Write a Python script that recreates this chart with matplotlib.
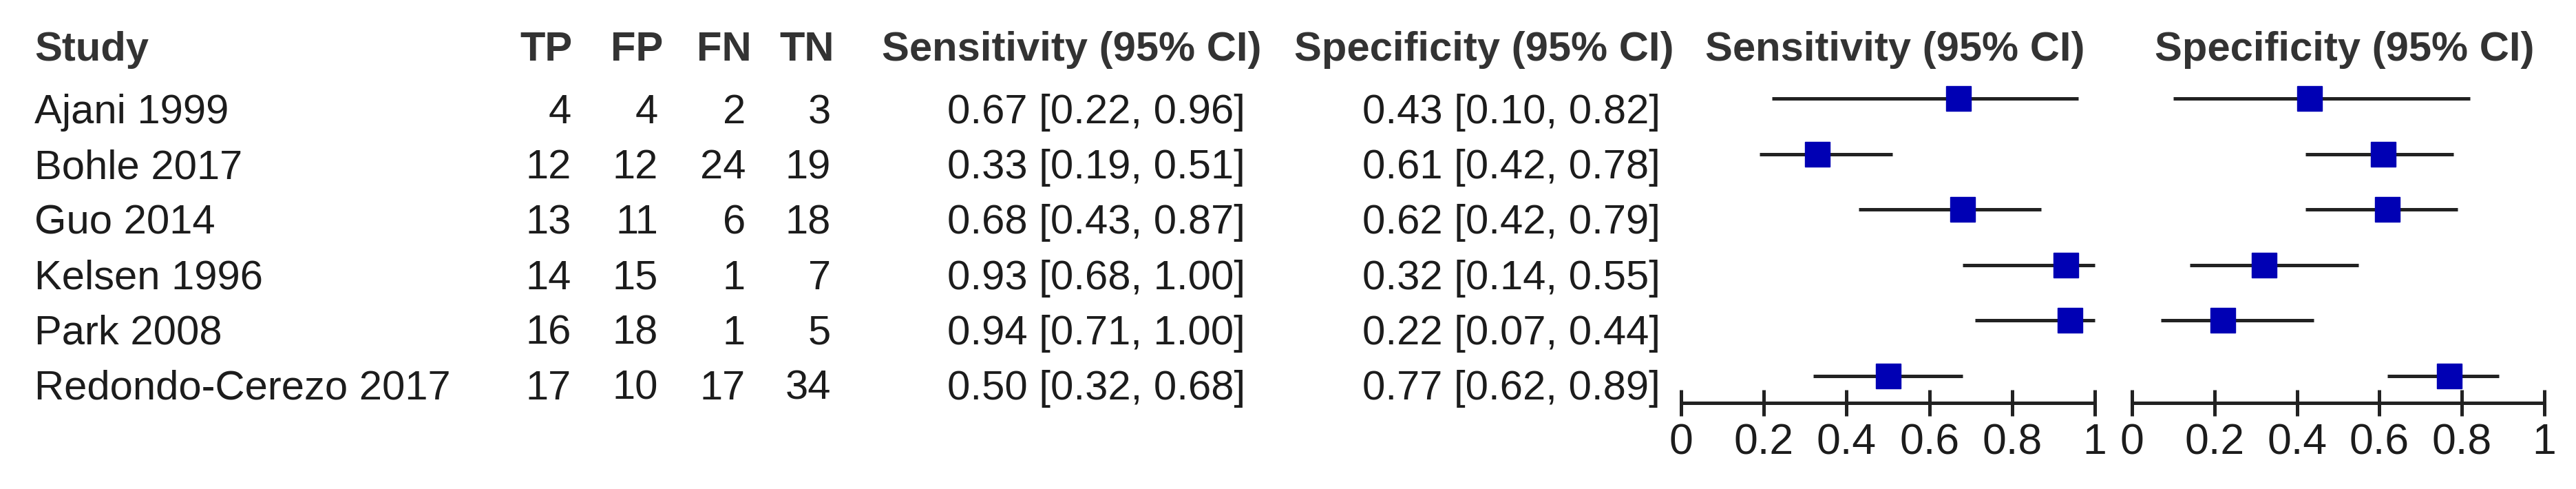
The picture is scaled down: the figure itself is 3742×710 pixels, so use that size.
import matplotlib
matplotlib.use("Agg")
import matplotlib.pyplot as plt

# data
studies = ["Ajani 1999", "Bohle 2017", "Guo 2014", "Kelsen 1996", "Park 2008", "Redondo-Cerezo 2017"]
tp = [4, 12, 13, 14, 16, 17]
fp = [4, 12, 11, 15, 18, 10]
fn = [2, 24, 6, 1, 1, 17]
tn = [3, 19, 18, 7, 5, 34]
sens = [0.67, 0.33, 0.68, 0.93, 0.94, 0.50]
sens_lo = [0.22, 0.19, 0.43, 0.68, 0.71, 0.32]
sens_hi = [0.96, 0.51, 0.87, 1.00, 1.00, 0.68]
spec = [0.43, 0.61, 0.62, 0.32, 0.22, 0.77]
spec_lo = [0.10, 0.42, 0.42, 0.14, 0.07, 0.62]
spec_hi = [0.82, 0.78, 0.79, 0.55, 0.44, 0.89]
ticks = [0, 0.2, 0.4, 0.6, 0.8, 1]
tick_labels = ["0", "0.2", "0.4", "0.6", "0.8", "1"]

W, H = 3742, 710
plt.rcParams['font.family'] = ['Liberation Sans', 'DejaVu Sans']
FS = 43
TXT = "#1c1c1c"
HDR = "#333333"
BLUE = "#0000b4"
LN = "#222222"

fig = plt.figure(figsize=(W / 100, H / 100), dpi=100)


def px(x, y):
    return x / W, 1 - y / H


def put(x, y, s, ha="left", bold=False):
    fx, fy = px(x, y)
    fig.text(fx, fy, s, ha=ha, va="baseline", fontsize=FS,
             fontweight="bold" if bold else "normal",
             color=HDR if bold else TXT)


# table part
hdr_base = 88
row_base = 179
row_gap = 80.2
put(50, hdr_base, "Study", bold=True)
put(831, hdr_base, "TP", ha="right", bold=True)
put(963, hdr_base, "FP", ha="right", bold=True)
put(1092, hdr_base, "FN", ha="right", bold=True)
put(1212, hdr_base, "TN", ha="right", bold=True)
put(1281, hdr_base, "Sensitivity (95% CI)", bold=True)
put(1880, hdr_base, "Specificity (95% CI)", bold=True)
put(2753, hdr_base, "Sensitivity (95% CI)", ha="center", bold=True)
put(3406, hdr_base, "Specificity (95% CI)", ha="center", bold=True)

for i, name in enumerate(studies):
    yb = row_base + i * row_gap
    put(50, yb, name)
    put(830, yb, str(tp[i]), ha="right")
    put(956, yb, str(fp[i]), ha="right")
    put(1083, yb, str(fn[i]), ha="right")
    put(1207, yb, str(tn[i]), ha="right")
    put(1809, yb, "%.2f [%.2f, %.2f]" % (sens[i], sens_lo[i], sens_hi[i]), ha="right")
    put(2412, yb, "%.2f [%.2f, %.2f]" % (spec[i], spec_lo[i], spec_hi[i]), ha="right")

# forest plots
row_px0 = 143
row_step = 80.6
axis_px = 585
top_px = 100
ylims = ((axis_px - row_px0) / row_step, (top_px - row_px0) / row_step)


def forest(x0, x1, est, lo, hi):
    ax = fig.add_axes([x0 / W, 1 - axis_px / H, (x1 - x0) / W, (axis_px - top_px) / H])
    ax.set_xlim(0, 1)
    ax.set_ylim(*ylims)
    for s in ["top", "left", "right"]:
        ax.spines[s].set_visible(False)
    ax.spines["bottom"].set_linewidth(3.6)
    ax.spines["bottom"].set_color(LN)
    ax.set_yticks([])
    ax.set_xticks(ticks)
    ax.set_xticklabels(tick_labels)
    ax.tick_params(axis="x", direction="inout", length=27, width=3.6, color=LN,
                   labelsize=45, labelcolor=TXT, pad=7)
    for i in range(len(est)):
        ax.plot([lo[i], hi[i]], [i, i], color=LN, lw=3.6, solid_capstyle="butt", clip_on=False)
        ax.plot(est[i], i, marker="s", ms=26, color=BLUE, mec=BLUE, clip_on=False)
    return ax


forest(2442, 3043, sens, sens_lo, sens_hi)
forest(3097, 3696, spec, spec_lo, spec_hi)

fig.savefig("out.png", dpi=100, facecolor="white")
